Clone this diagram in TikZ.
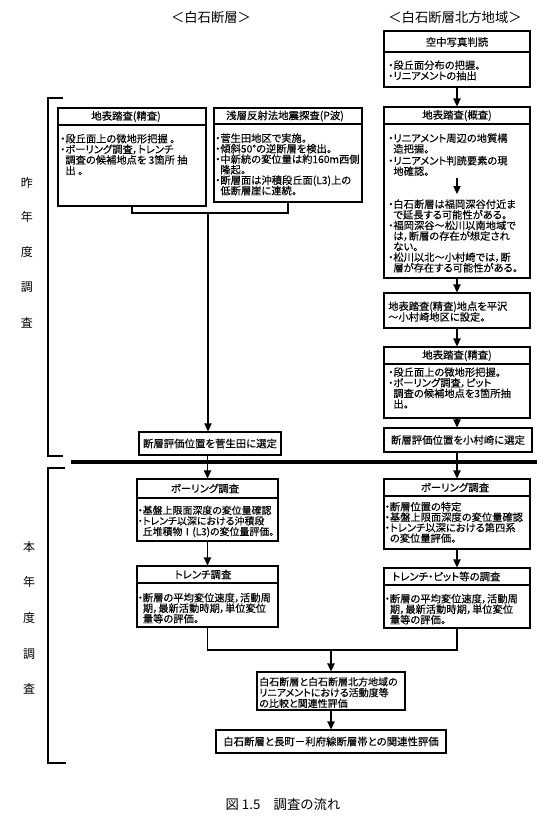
\documentclass[tikz,border=0pt]{standalone}
\usepackage{fontspec}
\setmainfont{Noto Sans CJK JP}
\newfontfamily\jp[RawFeature=+palt, FakeBold=0.2]{Noto Sans CJK JP}
\usetikzlibrary{fit,arrows.meta,calc}
\begin{document}
\begin{tikzpicture}[x=0.75pt,y=-0.75pt,
  box/.style={draw, line width=0.8pt, inner sep=0pt, fit={#1}},
  ttl/.style={font=\jp\fontsize{7.8}{8.2}\selectfont, inner sep=0pt},
  ln/.style={font=\jp\fontsize{7.7}{8.2}\selectfont, anchor=west, inner sep=0pt, text height=0.88em, text depth=0.12em},
  arr/.style={line width=0.8pt, -{Triangle[width=5.5pt,length=6pt]}},
  conn/.style={line width=0.8pt},
  hdr/.style={font=\fontsize{10}{12}\selectfont, inner sep=0pt},
  side/.style={font=\fontsize{9}{10}\selectfont, inner sep=0pt},
  bracket/.style={line width=0.8pt},
]
\useasboundingbox (0,0) rectangle (560,822);

% headers
\node[hdr] (h1) at (211,17) {＜白石断層＞};
\node[hdr] (h2) at (455,17) {＜白石断層北方地域＞};

% side brackets and labels
\draw[bracket] (63,98) -- (48,98) -- (48,456) -- (63,456);
\draw[bracket] (65,468) -- (48,468) -- (48,763) -- (66,763);
\node[side] (s1) at (27,183) {昨};
\node[side] (s2) at (27,217) {年};
\node[side] (s3) at (27,252) {度};
\node[side] (s4) at (27,287) {調};
\node[side] (s5) at (27,323) {査};
\node[side] (t1) at (29,547) {本};
\node[side] (t2) at (29,582) {年};
\node[side] (t3) at (29,618) {度};
\node[side] (t4) at (29,654) {調};
\node[side] (t5) at (29,689) {査};

% thick divider
\coordinate (thl) at (71,462);
\coordinate (thr) at (537,462);
\draw[line width=3.2pt] (thl) -- (thr);

% ---------- right column ----------
\node[box={(384,31) (530,87)}] (r1) {};
\draw[conn] (r1.west |- 0,52) -- (r1.east |- 0,52);
\node[ttl] (r1t) at (457,42) {空中写真判読};
\foreach \t [count=\i from 0] in {・段丘面分布の把握。,・リニアメントの抽出}
  \node[ln, name=r1l\i] at (388,64+10.6*\i) {\t};

\node[box={(384,107) (530,278)}] (r2) {};
\draw[conn] (r2.west |- 0,124) -- (r2.east |- 0,124);
\node[ttl] (r2t) at (457,115.5) {地表踏査(概査)};
\foreach \t [count=\i from 0] in {・リニアメント周辺の地質構,\phantom{・}造把握。}
  \node[ln, name=r2l\i] at (388,137+10.6*\i) {\t};
\foreach \t [count=\i from 0] in {・リニアメント判読要素の現,\phantom{・}地確認。}
  \node[ln, name=r2m\i] at (388,159.5+10.6*\i) {\t};
\coordinate (r2a) at (457,178);
\coordinate (r2c) at (457,194);
\draw[arr] (r2a) -- (r2c);
\foreach \t [count=\i from 0] in {・白石断層は福岡深谷付近ま,\phantom{・}で延長する可能性がある。,・福岡深谷～松川以南地域で,\phantom{・}は，断層の存在が想定され,\phantom{・}ない。,・松川以北～小村崎では，断,\phantom{・}層が存在する可能性がある。}
  \node[ln, name=r2n\i] at (388,203+10.6*\i) {\t};

\node[box={(384,293) (530,328)}] (r3) {};
\foreach \t [count=\i from 0] in {地表踏査(精査)地点を平沢,～小村崎地区に設定。}
  \node[ln, name=r3l\i] at (388,305+10.8*\i) {\t};

\node[box={(384,347) (530,418)}] (r4) {};
\draw[conn] (r4.west |- 0,364) -- (r4.east |- 0,364);
\node[ttl] (r4t) at (457,355.5) {地表踏査(精査)};
\foreach \t [count=\i from 0] in {・段丘面上の微地形把握。,・ボーリング調査，ピット,\phantom{・}調査の候補地点を3箇所抽,\phantom{・}出。}
  \node[ln, name=r4l\i] at (388,371+10.6*\i) {\t};

\node[box={(384,428) (532,452)}] (r5) {};
\node[ttl] (r5t) at (458,440) {断層評価位置を小村崎に選定};

\node[box={(384,479) (530,549)}] (r6) {};
\draw[conn] (r6.west |- 0,496) -- (r6.east |- 0,496);
\node[ttl] (r6t) at (455,487.5) {ボーリング調査};
\foreach \t [count=\i from 0] in {・断層位置の特定,・基盤上限面深度の変位量確認,・トレンチ以深における第四系,\phantom{・}の変位量評価。}
  \node[ln, name=r6l\i] at (384.5,505.5+10.5*\i) {\t};

\node[box={(384,568) (530,628)}] (r7) {};
\draw[conn] (r7.west |- 0,585) -- (r7.east |- 0,585);
\node[ttl, anchor=west] (r7t) at (392,576.5) {トレンチ・ピット等の調査};
\foreach \t [count=\i from 0] in {・断層の平均変位速度，活動周,\phantom{・}期，最新活動時期，単位変位,\phantom{・}量等の評価。}
  \node[ln, name=r7l\i] at (384.5,597.5+10.5*\i) {\t};

% ---------- left column ----------
\node[box={(58,108) (206,206)}] (a) {};
\draw[conn] (a.west |- 0,125) -- (a.east |- 0,125);
\node[ttl] (at) at (126,116.5) {地表踏査(精査)};
\foreach \t [count=\i from 0] in {・段丘面上の微地形把握 。,・ボーリング調査，トレンチ,\phantom{・}調査の候補地点を 3箇所 抽,\phantom{・}出 。}
  \node[ln, name=al\i] at (60,137.5+10.6*\i) {\t};

\node[box={(214,108) (362,202)}] (b) {};
\draw[conn] (b.west |- 0,124) -- (b.east |- 0,124);
\node[ttl] (bt) at (285,116) {浅層反射法地震探査(P波)};
\foreach \t [count=\i from 0] in {・菅生田地区で実施。,・傾斜50°の逆断層を検出。,・中新統の変位量は約160m西側,\phantom{・}隆起。,・断層面は沖積段丘面(L3)上の,\phantom{・}低断層崖に連続。}
  \node[ln, name=bl\i] at (215,137+10.5*\i) {\t};

\node[box={(139,432) (281,455)}] (l5) {};
\node[ttl] (l5t) at (210,443.5) {断層評価位置を菅生田に選定};

\node[box={(137,479) (278,541)}] (l6) {};
\draw[conn] (l6.west |- 0,498) -- (l6.east |- 0,498);
\node[ttl] (l6t) at (205,488.5) {ボーリング調査};
\foreach \t [count=\i from 0] in {・基盤上限面深度の変位量確認,・トレンチ以深における沖積段,\phantom{・}丘堆積物Ⅰ(L3)の変位量評価。}
  \node[ln, font=\jp\fontsize{7.45}{8.2}\selectfont, name=l6l\i] at (137.5,509+10.6*\i) {\t};

\node[box={(137,566) (278,627)}] (l7) {};
\draw[conn] (l7.west |- 0,583) -- (l7.east |- 0,583);
\node[ttl] (l7t) at (203,574.5) {トレンチ調査};
\foreach \t [count=\i from 0] in {・断層の平均変位速度，活動周,\phantom{・}期，最新活動時期，単位変位,\phantom{・}量等の評価。}
  \node[ln, name=l7l\i] at (137.5,596.5+10.5*\i) {\t};

% ---------- merged bottom ----------
\node[box={(257,672) (405,710)}] (m1) {};
\foreach \t [count=\i from 0] in {白石断層と白石断層北方地域の,リニアメントにおける活動度等,の比較と関連性評価}
  \node[ln, font=\jp\fontsize{7.5}{8.2}\selectfont, name=m1l\i] at (259,680.5+10.8*\i) {\t};
\node[box={(216,730) (446,753)}] (m2) {};
\node[ttl] (m2t) at (331,741.5) {白石断層と長町－利府線断層帯との関連性評価};

% caption
\node[font=\fontsize{10}{12}\selectfont, inner sep=0pt] (cap) at (283,804) {図 1.5　調査の流れ};

% ---------- connectors ----------
\coordinate (jM) at (208,213);
\coordinate (jB) at (331,650);
\draw[arr] (r1.south) -- (r2.north);
\draw[arr] (r2.south) -- (r3.north);
\draw[arr] (r3.south) -- (r4.north);
\draw[arr] (r4.south) -- (r4.south |- r5.north);
\draw[arr] (r6.north |- r5.south) -- (r6.north);
\draw[arr] (r6.south) -- (r7.north);
\draw[conn] (a.south) |- (jM) -| (b.south);
\draw[arr] (jM) -- (jM |- l5.north);
\draw[arr] (l6.north |- l5.south) -- (l6.north);
\draw[arr] (l6.south) -- (l7.north);
\draw[conn] (l7.south) |- (jB) -| (r7.south);
\draw[arr] (jB) -- (m1.north);
\draw[arr] (m1.south) -- (m2.north);
\end{tikzpicture}
\end{document}
